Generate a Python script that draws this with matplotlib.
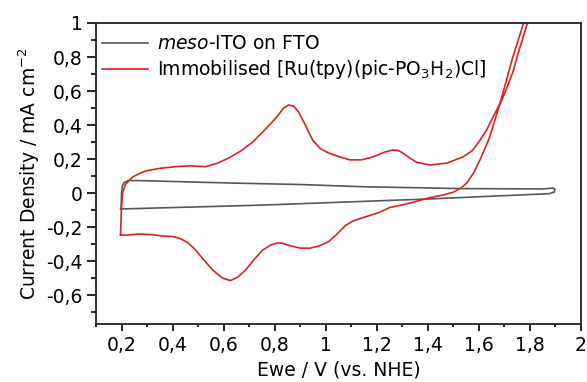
import matplotlib
matplotlib.use("Agg")
import matplotlib.pyplot as plt
from matplotlib.ticker import MultipleLocator, FuncFormatter

plt.rcParams["font.family"] = ["DejaVu Sans"]
plt.rcParams["mathtext.fontset"] = "dejavusans"

# Blank electrode (meso-ITO on FTO): potential (V vs NHE) and current density (mA cm^-2)
ito_potential = [0.198, 0.199, 0.200, 0.203, 0.210, 0.227, 0.300, 0.620, 0.900,
                 1.145, 1.537, 1.850, 1.890, 1.898, 1.895, 1.875, 1.404, 0.753, 0.196]
ito_current = [-0.094, -0.050, 0.000, 0.040, 0.062, 0.074, 0.072, 0.059, 0.050,
               0.037, 0.026, 0.024, 0.029, 0.024, 0.005, -0.004, -0.035, -0.071, -0.094]

# Immobilised Ru complex: forward (anodic) sweep
ru_fwd_potential = [0.196, 0.199, 0.204, 0.215, 0.243, 0.270, 0.294, 0.350, 0.412,
                    0.470, 0.529, 0.575, 0.620, 0.670, 0.714, 0.760, 0.804, 0.835,
                    0.855, 0.875, 0.894, 0.920, 0.949, 0.980, 1.012, 1.050, 1.094,
                    1.140, 1.184, 1.230, 1.263, 1.285, 1.302, 1.330, 1.357, 1.408,
                    1.475, 1.537, 1.575, 1.604, 1.630, 1.655, 1.685, 1.710, 1.735,
                    1.753, 1.770, 1.788, 1.800]
ru_fwd_current = [-0.247, -0.100, 0.000, 0.050, 0.094, 0.115, 0.130, 0.145, 0.155,
                  0.160, 0.155, 0.175, 0.206, 0.250, 0.300, 0.370, 0.440, 0.500,
                  0.518, 0.510, 0.476, 0.400, 0.310, 0.260, 0.235, 0.215, 0.195,
                  0.195, 0.212, 0.240, 0.253, 0.250, 0.235, 0.205, 0.180, 0.165,
                  0.176, 0.212, 0.250, 0.310, 0.370, 0.447, 0.530, 0.620, 0.720,
                  0.820, 0.900, 0.990, 1.050]

# Immobilised Ru complex: reverse (cathodic) sweep
ru_rev_potential = [1.785, 1.773, 1.750, 1.729, 1.700, 1.671, 1.640, 1.604, 1.580,
                    1.553, 1.530, 1.500, 1.459, 1.400, 1.341, 1.300, 1.251, 1.208,
                    1.145, 1.106, 1.078, 1.045, 1.012, 0.976, 0.937, 0.900, 0.860,
                    0.830, 0.812, 0.785, 0.753, 0.720, 0.686, 0.655, 0.627, 0.595,
                    0.557, 0.520, 0.490, 0.460, 0.430, 0.400, 0.361, 0.320, 0.267,
                    0.220, 0.196]
ru_rev_current = [1.050, 0.990, 0.880, 0.780, 0.620, 0.470, 0.320, 0.194, 0.120,
                  0.060, 0.030, 0.005, -0.012, -0.030, -0.055, -0.070, -0.085, -0.115,
                  -0.145, -0.165, -0.190, -0.240, -0.285, -0.310, -0.325, -0.324, -0.310,
                  -0.295, -0.294, -0.305, -0.335, -0.390, -0.453, -0.495, -0.515, -0.500,
                  -0.453, -0.390, -0.335, -0.292, -0.268, -0.256, -0.253, -0.245, -0.241,
                  -0.248, -0.247]

ito_label = r"$\it{meso}$-ITO on FTO"
ru_label = r"Immobilised [Ru(tpy)(pic-PO$_3$H$_2$)Cl]"

gray = "#4f5a5e"
red = "#d92323"
fs = 13.5

fig = plt.figure(figsize=(5.87, 3.82), dpi=100)
ax = fig.add_axes([0.1636, 0.152, 0.8262, 0.7878])

ax.plot(ito_potential, ito_current, color=gray, lw=1.2, label=ito_label)
ax.plot(ru_fwd_potential + ru_rev_potential, ru_fwd_current + ru_rev_current,
        color=red, lw=1.2, label=ru_label)

ax.set_xlim(0.1, 2.0)
ax.set_ylim(-0.77, 1.0)

ax.xaxis.set_major_locator(MultipleLocator(0.2))
ax.xaxis.set_minor_locator(MultipleLocator(0.1))
ax.yaxis.set_major_locator(MultipleLocator(0.2))
ax.yaxis.set_minor_locator(MultipleLocator(0.1))


def comma_fmt(v, pos):
    if abs(v) < 1e-9:
        return "0"
    s = f"{v:.1f}".rstrip("0").rstrip(".")
    return s.replace(".", ",")


ax.xaxis.set_major_formatter(FuncFormatter(comma_fmt))
ax.yaxis.set_major_formatter(FuncFormatter(comma_fmt))

ax.tick_params(which="both", direction="out", labelsize=fs, width=1.2,
               top=False, right=False)
ax.tick_params(axis="x", which="major", length=5, pad=4)
ax.tick_params(axis="x", which="minor", length=2.5)
ax.tick_params(axis="y", which="major", length=6.5, pad=3)
ax.tick_params(axis="y", which="minor", length=3.5)
for sp in ax.spines.values():
    sp.set_linewidth(1.3)
    sp.set_color("#222222")

ax.set_xlabel("Ewe / V (vs. NHE)", fontsize=fs, labelpad=4)
ax.set_ylabel(r"Current Density / mA cm$^{-2}$", fontsize=fs, labelpad=3)

ax.legend(loc="upper left", bbox_to_anchor=(0.012, 0.962), frameon=False,
          fontsize=fs, handlelength=2.45, handletextpad=0.48, labelspacing=0.25,
          borderaxespad=0, borderpad=0)

fig.savefig("out.png", dpi=100)
